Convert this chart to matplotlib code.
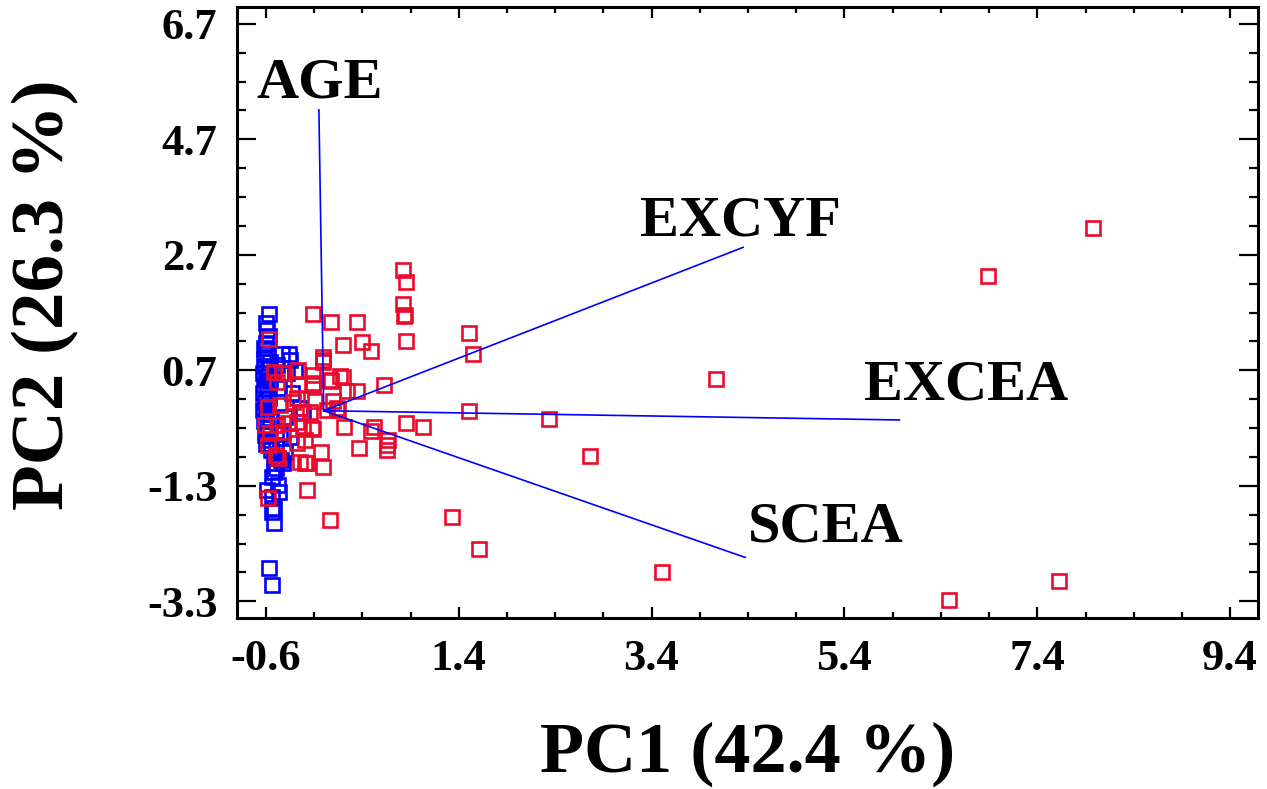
import numpy as np
import matplotlib
matplotlib.use('Agg')
from matplotlib import pyplot as plt

plt.rcParams['font.family'] = ['Liberation Serif', 'DejaVu Serif']
plt.rcParams['font.weight'] = 'bold'

# scores, group 1 (blue)
blue_x = [-0.57, -0.60, -0.59, -0.57, -0.60, -0.62, -0.59, -0.62, -0.56, -0.61,
          -0.58, -0.63, -0.60, -0.56, -0.62, -0.59, -0.63, -0.57, -0.61, -0.58,
          -0.63, -0.60, -0.56, -0.62, -0.59, -0.61, -0.57, -0.60, -0.55, -0.52,
          -0.47, -0.42, -0.52, -0.54, -0.59, -0.47, -0.46, -0.54, -0.52, -0.54,
          -0.52, -0.57, -0.54,
          -0.36, -0.43, -0.35, -0.48, -0.38, -0.30, -0.46, -0.33, -0.25, -0.40,
          -0.45, -0.35, -0.50, -0.40, -0.44, -0.50, -0.22]
blue_y = [1.67, 1.52, 1.40, 1.30, 1.18, 1.08, 0.98, 0.90, 0.85, 0.78,
          0.72, 0.65, 0.58, 0.52, 0.45, 0.38, 0.30, 0.22, 0.15, 0.08,
          0.02, -0.05, -0.12, -0.18, -0.30, -0.42, -0.50, -0.58, -0.68, -0.82,
          -0.82, -0.91, -1.06, -1.15, -1.38, -1.29, -1.41, -1.50, -1.69, -1.76,
          -1.95, -2.73, -3.01,
          0.98, 0.98, 0.88, 0.80, 0.65, 0.68, 0.40, 0.30, 0.05, -0.10,
          -0.40, -0.45, -0.60, -0.72, -0.86, -1.00, -0.02]

# scores, group 2 (red)
red_x = [7.98, 6.89, 4.07, 2.34, 2.76, 1.51, 1.55, 1.51, 1.33, 1.61,
         3.51, 6.48, 7.63, 0.07,
         0.82, 0.85, 0.82, 0.83, 0.84, 0.85, 0.85, 1.03,
         0.62, 0.67, 0.66, 0.66,
         -0.11, 0.08, 0.35, 0.20, 0.40, 0.49, -0.006, -0.006, -0.006, -0.11,
         -0.11, 0.08, 0.17, 0.24, 0.35, -0.09, 0.10, 0.03, 0.15, 0.21,
         0.52, 0.49, 0.37, -0.03, -0.006, -0.19, -0.11, -0.57,
         -0.52, -0.43, -0.27, 0.07, 0.20, -0.48, -0.27, -0.11, -0.28, -0.45,
         -0.58, -0.32, 0.14, -0.25, -0.14, -0.61, -0.48, -0.37, -0.22, -0.12,
         -0.28,
         -0.555, -0.42, -0.28, -0.19, -0.58, -0.50, -0.47, -0.25, -0.17, -0.17,
         -0.58]
red_y = [3.16, 2.33, 0.55, -0.15, -0.79, 1.34, 0.99, -0.01, -1.84, -2.40,
         -2.80, -3.27, -2.95, -1.90,
         2.44, 2.23, 1.85, 1.64, 1.66, 1.21, -0.22, -0.28,
         0.44, -0.51, -0.60, -0.68,
         1.67, 1.54, 1.54, 1.14, 1.19, 1.03, 0.93, 0.84, 0.88, 0.62,
         0.48, 0.51, 0.60, 0.34, 0.34, 0.17, 0.17, 0.01, 0.01, -0.28,
         -0.28, -0.35, -0.65, -0.72, -0.98, -0.91, -0.32, 1.24,
         0.67, 0.65, 0.70, 0.53, 0.58, 0.50, 0.44, 0.44, 0.22, 0.10,
         0.06, 0.15, 0.05, -0.04, -0.02, -0.25, -0.25, -0.22, -0.28, -0.30,
         -0.20,
         -0.39, -0.37, -0.56, -0.51, -0.60, -0.77, -0.82, -0.89, -0.91, -1.38,
         -1.51]

# loadings (scaled)
var_names = ['AGE', 'EXCYF', 'EXCEA', 'SCEA']
load_x = [-0.05, 4.35, 5.97, 4.37]
load_y = [5.21, 2.83, -0.16, -2.54]
label_x = [-0.70, 3.28, 5.60, 4.40]
label_y = [5.43, 3.04, 0.20, -2.27]

fig = plt.figure(figsize=(12.67, 7.89), dpi=100)
ax = fig.add_axes([0.187, 0.2167, 0.806, 0.7743])

mk = dict(marker='s', ls='none', ms=9.5, mew=1.9, mfc='none')
ax.plot(blue_x, blue_y, mec='#0000ff', **mk)
ax.plot(red_x, red_y, mec='#ec0a2c', **mk)

for n, lx, ly, tx, ty in zip(var_names, load_x, load_y, label_x, label_y):
    ax.plot([0, lx], [0, ly], color='#0000ff', lw=1.2)
    ax.text(tx, ty, n, fontsize=42, fontweight='bold', ha='left', va='baseline')

ax.set_xlim(-0.9, 9.69)
ax.set_ylim(-3.59, 6.99)
ax.set_xticks(np.arange(-0.6, 9.5, 2))
ax.set_xticks(np.arange(-0.6, 9.6, 0.5), minor=True)
ax.set_yticks(np.arange(-3.3, 6.8, 2))
ax.set_yticks(np.arange(-3.3, 6.9, 0.5), minor=True)
ax.set_xticklabels(['%.1f' % v for v in np.arange(-0.6, 9.5, 2)])
ax.set_yticklabels(['%.1f' % v for v in np.arange(-3.3, 6.8, 2)])

ax.tick_params(axis='both', which='both', direction='in', top=True, right=True,
               width=1.6, labelsize=32)
ax.tick_params(axis='x', which='major', length=8, pad=15)
ax.tick_params(axis='x', which='minor', length=4.5)
ax.tick_params(axis='y', which='major', length=13.5, pad=14)
ax.tick_params(axis='y', which='minor', length=6.5)
for lab in ax.get_xticklabels() + ax.get_yticklabels():
    lab.set_fontweight('bold')
for sp in ax.spines.values():
    sp.set_linewidth(2.2)

ax.set_xlabel('PC1 (42.4 %)', fontsize=52, fontweight='bold')
ax.set_ylabel('PC2 (26.3 %)', fontsize=54, fontweight='bold')
ax.xaxis.set_label_coords(0.5005, -0.17)
ax.yaxis.set_label_coords(-0.154, 0.529)

fig.savefig('out.png', dpi=100)
